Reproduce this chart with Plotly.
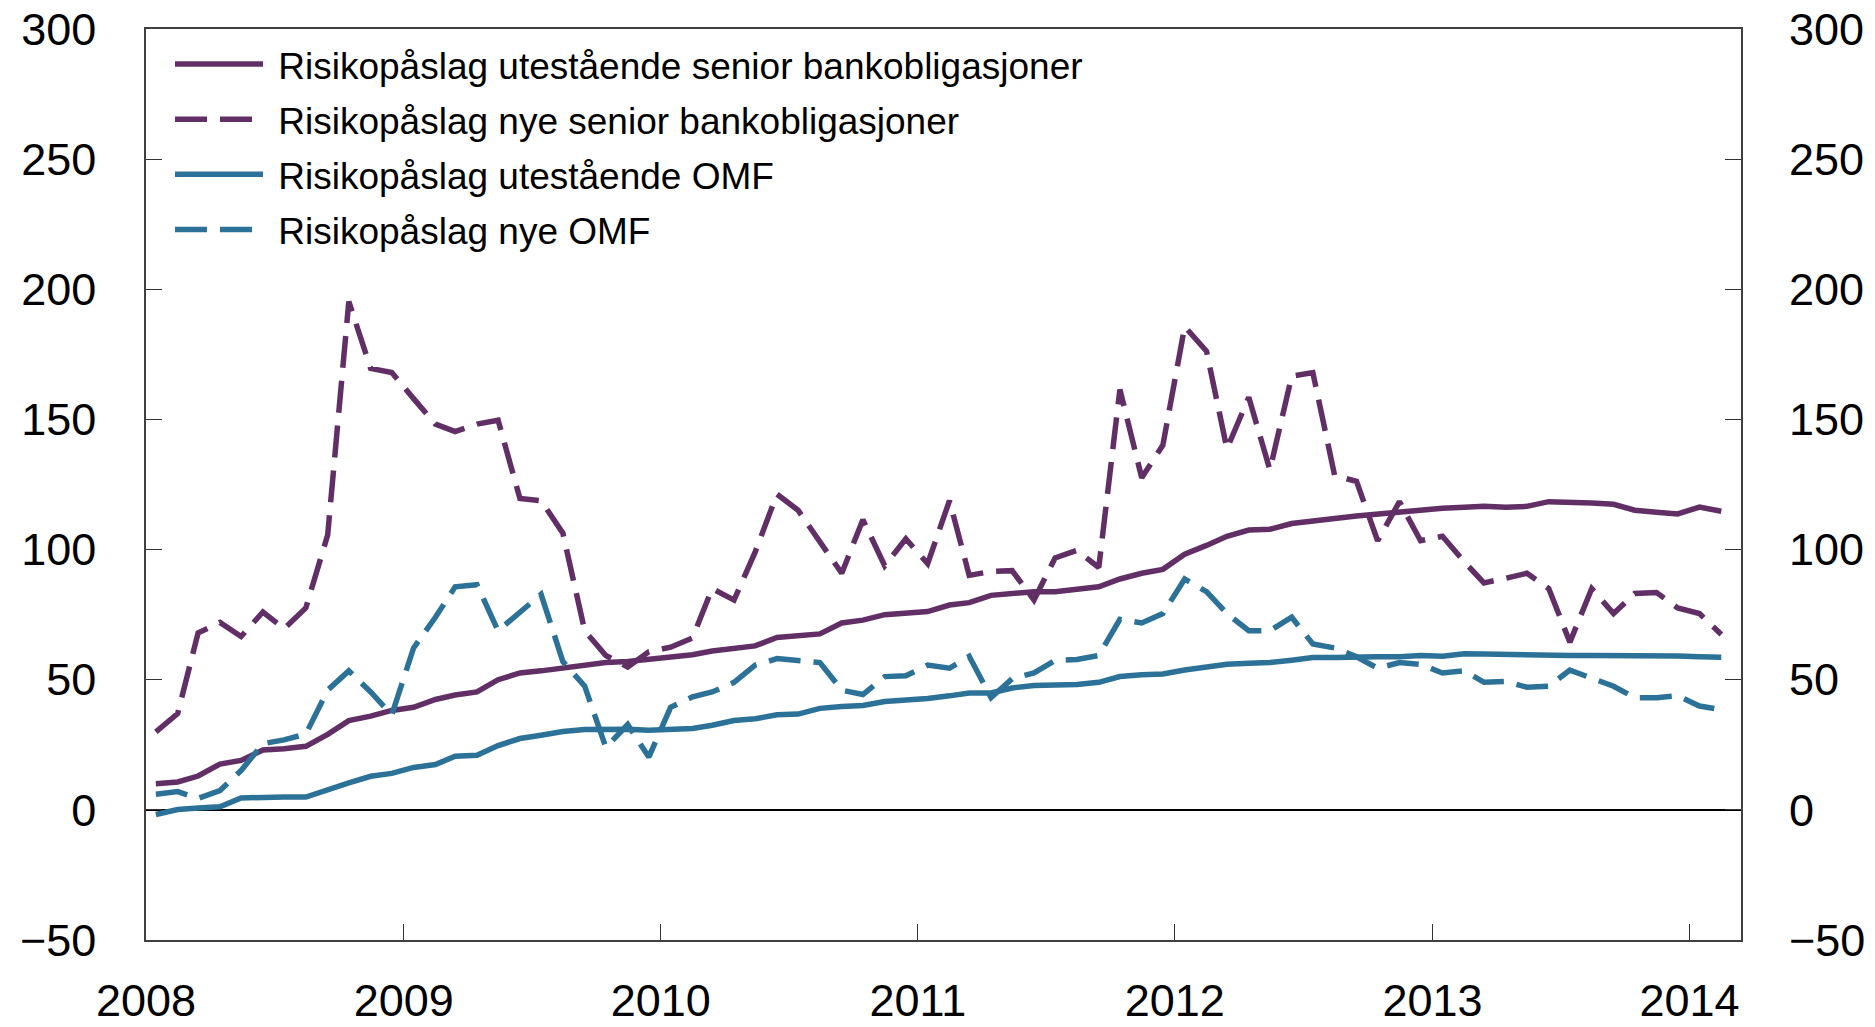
import pandas as pd
import plotly.graph_objects as go

# Monthly observations, Jan 2008 - Feb 2014 (plotted mid-month)
dates = pd.date_range("2008-01-01", periods=74, freq="MS") + pd.Timedelta(days=14)

senior_utestaende = [
    10, 10.7, 13, 17.6, 19, 23, 23.5, 24.4, 29, 34.3, 36, 38.2,
    39.4, 42.4, 44.1, 45.3, 50, 52.6, 53.4, 54.4, 55.6, 56.6, 57, 57.8,
    58.6, 59.6, 61, 61.8, 63, 66.2, 66.9, 67.6, 71.8, 72.9, 75, 75.4,
    76.2, 78.7, 79.6, 82.4, 83.1, 83.8, 83.8, 84.6, 85.7, 88.7, 90.9, 92.4,
    98.2, 101.6, 105.1, 107.5, 107.8, 110, 110.7, 111.9, 112.9, 113.7, 114.7, 115.4,
    115.9, 116.3, 116.6, 116.3, 116.6, 118.4, 118.4, 117.9, 117.4, 115.1, 114.3, 113.7,
    116.3, 114.7,
]
senior_nye = [
    30, 37, 68, 72, 66.6, 76, 69.6, 77.6, 105.6, 195.3, 169.6, 168,
    158, 148.2, 145.3, 148.2, 149.7, 119.6, 118.8, 106.3, 68.8, 59.3, 54.9, 60.7,
    62.5, 66, 85, 80.6, 99, 121.3, 115.1, 103.4, 90.9, 111.5, 93.8, 104.1,
    94.6, 118.8, 90.1, 91.6, 91.9, 80.6, 96.8, 99.7, 93.1, 161.5, 127.6, 140.1,
    185.7, 176.2, 138.7, 158.5, 130.6, 166.6, 168, 128.4, 126.2, 103.4, 118.4, 103.4,
    105.1, 95.3, 87.2, 89, 90.9, 85, 64.4, 85, 75.4, 83.1, 83.5, 77.6,
    75.4, 67.4,
]
omf_utestaende = [
    -1.8, 0.1, 0.7, 1.2, 4.6, 4.9, 4.9, 4.9, 7.8, 10.4, 12.9, 14,
    16.3, 17.4, 20.6, 21, 24.7, 27.4, 28.7, 30.1, 30.9, 31, 31, 30.6,
    31, 31.3, 32.5, 34.3, 35, 36.5, 36.8, 39, 39.7, 40.1, 41.6, 42.1,
    42.8, 43.8, 44.9, 44.9, 46.8, 47.8, 47.8, 48.2, 49, 51.2, 51.9, 52.2,
    53.7, 54.9, 55.9, 56.3, 56.6, 57.5, 58.5, 58.5, 58.8, 58.8, 58.8, 59.3,
    59, 60, 59.9, 59.7, 59.3, 59.3, 59.3, 59.3, 59.3, 59.5, 59.3, 59.1,
    58.8, 58.6,
]
omf_nye = [
    6, 7, 4.4, 7.4, 15.1, 25.4, 26.9, 29.1, 46, 53.4, 45.3, 36.5,
    62.2, 74, 85.7, 86.5, 68.8, 76.2, 82.8, 57, 47.5, 24, 32.8, 20.3,
    39.4, 43.4, 45.3, 49, 55.6, 58.1, 57.4, 56.6, 46, 44.3, 51.2, 51.5,
    55.6, 54.4, 59, 43.1, 50.4, 52.6, 57.4, 57.8, 59.3, 73.2, 71.8, 75.4,
    88.7, 83.8, 75.4, 68.8, 68.8, 74, 63.7, 62.2, 58.8, 54.4, 56.6, 55.9,
    52.6, 53.4, 49, 49.3, 47.1, 47.5, 53.7, 50.7, 47.5, 43.1, 43.1, 43.8,
    39.9, 38.5,
]

series_names = [
    "Risikopåslag utestående senior bankobligasjoner",
    "Risikopåslag nye senior bankobligasjoner",
    "Risikopåslag utestående OMF",
    "Risikopåslag nye OMF",
]

year_ticks = [f"{y}-01-01" for y in range(2008, 2015)]
year_labels = [str(y) for y in range(2008, 2015)]
y_ticks = [-50, 0, 50, 100, 150, 200, 250, 300]

purple = "#612f66"
blue = "#2c7298"
lw = 5.5
dash = "32px,13px"
pad = "\u00a0"  # a little more room between legend line and text

fig = go.Figure()
fig.add_trace(go.Scatter(x=dates, y=senior_utestaende, mode="lines",
                         name=pad + series_names[0],
                         legendgroup="a", line=dict(color=purple, width=lw)))
fig.add_trace(go.Scatter(x=dates, y=senior_nye, mode="lines",
                         name=pad + series_names[1],
                         legendgroup="b", line=dict(color=purple, width=lw, dash=dash)))
fig.add_trace(go.Scatter(x=dates, y=omf_utestaende, mode="lines",
                         name=pad + series_names[2],
                         legendgroup="c", line=dict(color=blue, width=lw)))
# last series sits on the right-hand axis (same scale) so its labels are drawn
fig.add_trace(go.Scatter(x=dates, y=omf_nye, mode="lines", yaxis="y2",
                         name=pad + series_names[3],
                         legendgroup="d", line=dict(color=blue, width=lw, dash=dash)))

font = "Liberation Sans, Arial, Helvetica, sans-serif"
plot_w = 1875 - 146 - 134

fig.update_layout(
    width=1875, height=1027,
    paper_bgcolor="white", plot_bgcolor="white",
    font=dict(family=font, size=45, color="black"),
    margin=dict(l=146, r=134, t=29, b=87, autoexpand=False),
    showlegend=True,
    legend=dict(x=24 / plot_w, y=0.995, xanchor="left", yanchor="top",
                font=dict(size=37), bgcolor="rgba(0,0,0,0)",
                itemwidth=88, traceorder="grouped", tracegroupgap=4),
    xaxis=dict(type="date", range=["2008-01-01", "2014-03-15"],
               tickvals=year_ticks, ticktext=year_labels,
               ticks="inside", ticklen=16, tickcolor="#333333", tickwidth=1,
               showline=True, linecolor="#404040", linewidth=1.5, mirror=True,
               showgrid=False, zeroline=False, ticklabelstandoff=20, automargin=False),
    yaxis=dict(range=[-50, 300], tickvals=y_ticks,
               ticks="inside", ticklen=16, tickcolor="#333333", tickwidth=1,
               showline=True, linecolor="#404040", linewidth=1.5, mirror=True,
               showgrid=False, zeroline=True, zerolinecolor="black", zerolinewidth=2,
               ticklabelstandoff=39, automargin=False),
    yaxis2=dict(range=[-50, 300], tickvals=y_ticks, overlaying="y", side="right",
                ticks="inside", ticklen=16, tickcolor="#333333", tickwidth=1,
                showline=False, showgrid=False, zeroline=False,
                ticklabelstandoff=47, automargin=False),
)

fig.write_html("out.html", config={"displayModeBar": False},
               post_script="document.body.style.margin='0';")
